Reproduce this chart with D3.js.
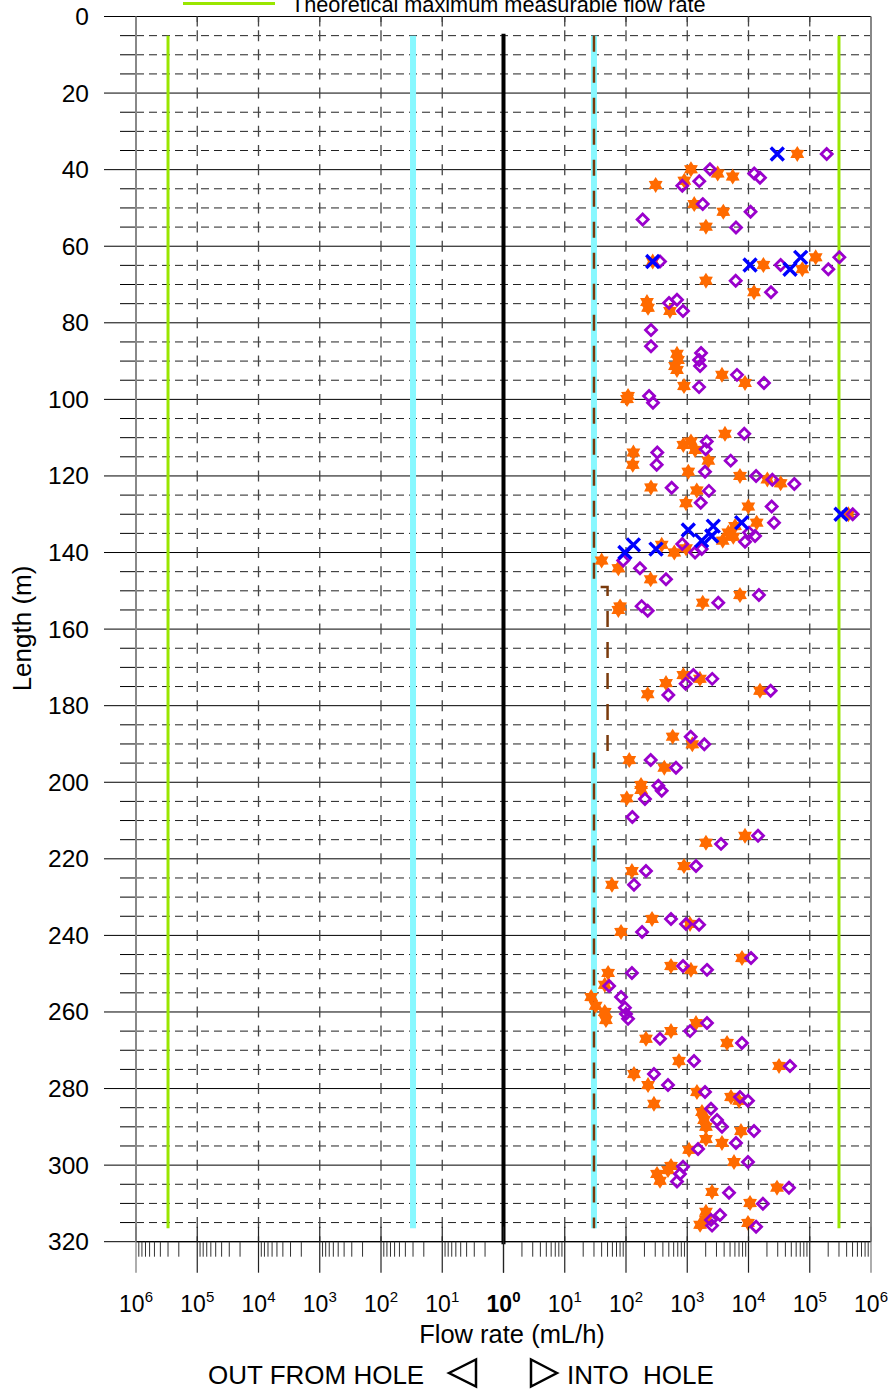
<!DOCTYPE html>
<html>
<head>
<meta charset="utf-8">
<script src="https://cdn.jsdelivr.net/npm/d3@7/dist/d3.min.js"></script>
<style>
  body { margin: 0; background: #fff; }
  text { font-family: "Liberation Sans", Arial, sans-serif; fill: #000; }
</style>
</head>
<body>
<div id="chart"></div>
<script>
// depth (m), flow rate (mL/h) -- all measured into the hole
var orangeStars = [
  [35.9, 62600], [39.9, 1150], [41.0, 3140], [41.8, 5520], [42.9, 895], [44.0, 305],
  [49.0, 1300], [51.0, 3880], [54.9, 2020], [62.9, 125000], [64.0, 273], [64.9, 17500],
  [66.0, 75600], [69.0, 2020], [72.0, 12300],
  [74.6, 220], [76.1, 229], [76.9, 523], [88.1, 680], [89.7, 706], [91.3, 631], [92.3, 680],
  [93.6, 3690], [95.7, 8770], [96.5, 885], [99.1, 108], [99.9, 104],
  [109.0, 4130], [111.0, 1150], [111.9, 863], [113.2, 1340], [113.9, 132], [116.0, 2210],
  [117.1, 129], [118.9, 1040], [120.0, 7260], [120.9, 20300], [121.9, 33500], [123.0, 256],
  [123.8, 1430], [127.1, 955], [128.0, 9930], [130.0, 426000], [132.2, 13600], [133.1, 6030],
  [134.8, 4680], [135.9, 5650], [136.9, 3790], [138.0, 383], [138.9, 955], [140.0, 615],
  [142.1, 40], [144.1, 75], [147.0, 253], [151.1, 7260], [153.1, 1790], [154.1, 80], [155.0, 75],
  [172.0, 863], [173.0, 1610], [174.1, 450], [176.1, 15400], [177.0, 226], [188.1, 578],
  [190.1, 1210], [194.2, 113], [196.2, 422], [200.7, 176], [202.0, 177], [204.2, 103],
  [214.0, 8770], [215.8, 2020], [221.9, 885], [223.2, 125], [226.8, 59], [235.7, 266],
  [237.0, 1110], [239.1, 83], [245.9, 7830], [248.0, 543], [249.0, 1150], [249.8, 51],
  [252.9, 45], [256.1, 27], [258.4, 32], [260.0, 45], [262.1, 47], [262.9, 1390], [265.0, 543],
  [267.0, 212], [268.1, 4460], [272.8, 733], [274.1, 31500], [276.2, 135], [279.1, 229],
  [280.9, 1440], [282.2, 5180], [283.2, 7000], [284.0, 286], [286.1, 1740], [288.2, 1880],
  [290.0, 2020], [291.1, 7540], [293.2, 2020], [294.2, 3690], [296.0, 1070], [299.2, 5800],
  [300.2, 543], [301.3, 485], [302.3, 321], [304.1, 359], [305.9, 29200], [307.0, 2540],
  [309.9, 10600], [312.2, 2020], [314.3, 2020], [315.6, 1620], [315.1, 9810]
];

var purpleDiamonds = [
  [35.9, 189000], [39.9, 2350], [41.0, 12400], [42.1, 15400], [43.0, 1570], [44.2, 830],
  [49.0, 1790], [51.0, 10800], [53.0, 187], [55.1, 6250], [62.9, 304000], [64.0, 359],
  [64.9, 33500], [66.0, 201000], [69.0, 6180], [72.0, 23300],
  [74.0, 680], [74.8, 504], [76.9, 853], [81.9, 256], [86.1, 256], [87.9, 1680], [89.7, 1560],
  [91.3, 1620], [93.6, 6490], [95.7, 17900], [96.8, 1560], [99.1, 238], [100.9, 276],
  [109.0, 8530], [111.0, 2080], [113.0, 2000], [113.9, 324], [116.0, 5120], [117.1, 317],
  [118.9, 1950], [120.0, 13300], [121.0, 24500], [122.1, 56000], [123.1, 557], [123.9, 2260],
  [127.0, 1660], [128.0, 23900], [130.0, 503000], [132.2, 26100], [134.8, 10200], [135.7, 12800],
  [137.2, 8770], [137.8, 830], [139.1, 1720], [140.0, 1340], [142.1, 90], [144.1, 169],
  [147.0, 450], [151.1, 14800], [153.1, 3210], [154.0, 180], [155.2, 226],
  [172.0, 1260], [173.0, 2560], [174.3, 943], [176.1, 23000], [177.2, 491], [188.1, 1140],
  [190.1, 1900], [194.2, 253], [196.2, 655], [200.9, 337], [202.2, 383], [204.4, 204], [209.1, 127],
  [214.0, 14300], [216.1, 3560], [221.9, 1390], [223.2, 212], [226.8, 135], [235.7, 543],
  [237.0, 955], [237.2, 1560], [239.1, 183], [245.9, 11000], [248.0, 853], [249.0, 2100],
  [249.8, 125], [253.2, 53], [256.1, 83], [258.9, 96], [260.5, 100], [261.8, 108], [262.9, 2100],
  [265.0, 1110], [267.0, 359], [268.1, 7830], [272.8, 1290], [274.1, 47600], [276.2, 286],
  [279.1, 485], [280.9, 1950], [282.2, 7260], [283.2, 9810], [285.3, 2440], [288.2, 3060],
  [290.0, 3690], [291.1, 12300], [294.2, 6250], [295.8, 1500], [299.2, 9810], [300.4, 853],
  [302.3, 762], [304.3, 680], [305.9, 45800], [307.2, 4810], [310.1, 17200], [313.0, 3430],
  [314.3, 2440], [315.8, 2540], [316.1, 13300]
];

var blueCrosses = [
  [35.9, 29500], [64.0, 273], [64.9, 10600], [62.9, 71100], [66.0, 47600],
  [130.0, 324000], [132.2, 7740], [133.1, 2660], [134.1, 1040], [135.7, 2510],
  [136.9, 1720], [138.0, 132], [139.1, 309], [140.0, 96]
];

// vertical reference lines
var theoMax = 300000;      // theoretical maximum measurable flow rate
var lowerLimit = 30;
var limitPath = [[5, 30], [149, 30], [149, 50], [192, 50], [192, 30], [316.5, 30]];

var depthTicks = d3.range(0, 321, 5);
var depthLabels = d3.range(0, 321, 20);
var decades = [0, 1, 2, 3, 4, 5, 6];

var width = 888, height = 1389;
var plotL = 136, plotR = 871, plotT = 16.5, plotB = 1241.7;
var xMid = 503.5;

var svg = d3.select("#chart").append("svg")
  .attr("width", width)
  .attr("height", height);

svg.append("rect").attr("width", width).attr("height", height).attr("fill", "#fff");

var y = d3.scaleLinear().domain([0, 320]).range([plotT, plotB]);
var xIn = d3.scaleLog().domain([1, 1e6]).range([xMid, plotR]);
var xOut = d3.scaleLog().domain([1, 1e6]).range([xMid, plotL]);

// horizontal grid + depth ticks
depthTicks.forEach(function(d) {
  var major = d % 20 === 0;
  svg.append("line")
    .attr("x1", major ? 104 : 120).attr("x2", major ? plotR : plotL)
    .attr("y1", y(d)).attr("y2", y(d))
    .attr("stroke", "#000")
    .attr("stroke-width", 1);
  if (!major) {
    svg.append("line")
      .attr("x1", plotL).attr("x2", plotR)
      .attr("y1", y(d)).attr("y2", y(d))
      .attr("stroke", "#222")
      .attr("stroke-width", 1)
      .attr("stroke-dasharray", "8,5");
  }
});

// vertical dashed grid at decades
var step = y(5) - y(0);
var gridX = [];
decades.forEach(function(k) {
  if (k > 0 && k < 6) { gridX.push(xIn(Math.pow(10, k))); gridX.push(xOut(Math.pow(10, k))); }
});
gridX.forEach(function(gx) {
  svg.append("line")
    .attr("x1", gx).attr("x2", gx)
    .attr("y1", plotT).attr("y2", plotB)
    .attr("stroke", "#444")
    .attr("stroke-width", 1.3)
    .attr("stroke-dasharray", "11," + (step - 11))
    .attr("stroke-dashoffset", 5.5);
  svg.append("line")
    .attr("x1", gx).attr("x2", gx)
    .attr("y1", plotT).attr("y2", plotT + 10)
    .attr("stroke", "#444").attr("stroke-width", 1.3);
});

// axis frame
svg.append("line").attr("x1", plotL).attr("x2", plotL).attr("y1", plotT).attr("y2", plotB)
  .attr("stroke", "#888").attr("stroke-width", 2);
svg.append("line").attr("x1", plotR).attr("x2", plotR).attr("y1", plotT).attr("y2", plotB)
  .attr("stroke", "#888").attr("stroke-width", 2);

// reference lines
[xIn(theoMax), xOut(theoMax)].forEach(function(gx) {
  svg.append("line").attr("x1", gx).attr("x2", gx).attr("y1", y(5)).attr("y2", y(316.5))
    .attr("stroke", "#99e600").attr("stroke-width", 3);
});
[xIn(lowerLimit), xOut(lowerLimit)].forEach(function(gx) {
  svg.append("line").attr("x1", gx).attr("x2", gx).attr("y1", y(5)).attr("y2", y(316.5))
    .attr("stroke", "#88f8ff").attr("stroke-width", 6);
});
svg.append("path")
  .attr("d", d3.line().x(function(d) { return xIn(d[1]); }).y(function(d) { return y(d[0]); })(limitPath))
  .attr("fill", "none")
  .attr("stroke", "#7a3a0c")
  .attr("stroke-width", 2.5)
  .attr("stroke-dasharray", "16,15");
svg.append("line").attr("x1", xMid).attr("x2", xMid).attr("y1", y(4.5)).attr("y2", plotB + 2.5)
  .attr("stroke", "#000").attr("stroke-width", 4);

// markers
function hexStar(R) {
  var p = [];
  for (var i = 0; i < 12; i++) {
    var a = Math.PI / 6 * i - Math.PI / 2, r = i % 2 ? R * 0.6 : R;
    p.push([r * Math.cos(a), r * Math.sin(a)]);
  }
  return "M" + p.join("L") + "Z";
}

svg.selectAll(".star").data(orangeStars).enter().append("path")
  .attr("class", "star")
  .attr("d", hexStar(8))
  .attr("transform", function(d) { return "translate(" + xIn(d[1]) + "," + y(d[0]) + ")"; })
  .attr("fill", "#ff6a00");

svg.selectAll(".diamond").data(purpleDiamonds).enter().append("path")
  .attr("class", "diamond")
  .attr("d", "M0,-5.5L5.5,0L0,5.5L-5.5,0Z")
  .attr("transform", function(d) { return "translate(" + xIn(d[1]) + "," + y(d[0]) + ")"; })
  .attr("fill", "none")
  .attr("stroke", "#9a00cc")
  .attr("stroke-width", 2.8);

svg.selectAll(".cross").data(blueCrosses).enter().append("path")
  .attr("class", "cross")
  .attr("d", "M-6.5,-6.5L6.5,6.5M-6.5,6.5L6.5,-6.5")
  .attr("transform", function(d) { return "translate(" + xIn(d[1]) + "," + y(d[0]) + ")"; })
  .attr("stroke", "#0000ff")
  .attr("stroke-width", 3.4);

// bottom axis
svg.append("line").attr("x1", plotL).attr("x2", plotR).attr("y1", plotB).attr("y2", plotB)
  .attr("stroke", "#000").attr("stroke-width", 1.2);
[xIn, xOut].forEach(function(sc) {
  sc.ticks().forEach(function(v) {
    var isDecade = Math.abs(Math.log10(v) - Math.round(Math.log10(v))) < 1e-9;
    if (isDecade) return;
    svg.append("line").attr("x1", sc(v)).attr("x2", sc(v)).attr("y1", plotB).attr("y2", plotB + 15)
      .attr("stroke", "#333").attr("stroke-width", 1);
  });
  decades.forEach(function(k) {
    var gx = sc(Math.pow(10, k));
    svg.append("line").attr("x1", gx).attr("x2", gx).attr("y1", plotB - 15).attr("y2", plotB + 31)
      .attr("stroke", k === 6 ? "#777" : "#222").attr("stroke-width", 1.2);
  });
});

function decadeLabel(gx, k, bold) {
  var t = svg.append("text")
    .attr("x", gx).attr("y", 1312)
    .attr("text-anchor", "middle")
    .attr("font-size", 23)
    .attr("font-weight", bold ? "bold" : "normal")
    .text("10");
  t.append("tspan").attr("font-size", 15).attr("dy", -10).text(k);
}
decades.forEach(function(k) {
  if (k === 0) { decadeLabel(xMid, 0, true); return; }
  decadeLabel(xIn(Math.pow(10, k)), k, false);
  decadeLabel(xOut(Math.pow(10, k)), k, false);
});

// depth labels
svg.selectAll(".ylab").data(depthLabels).enter().append("text")
  .attr("class", "ylab")
  .attr("x", 89).attr("y", function(d) { return y(d) + 8.5; })
  .attr("text-anchor", "end")
  .attr("font-size", 24.5)
  .text(function(d) { return d; });

svg.append("text")
  .attr("transform", "translate(31,628.5) rotate(-90)")
  .attr("text-anchor", "middle")
  .attr("font-size", 26)
  .text("Length (m)");

svg.append("text")
  .attr("x", 512).attr("y", 1343)
  .attr("text-anchor", "middle")
  .attr("font-size", 25.5)
  .text("Flow rate (mL/h)");

// direction legend
svg.append("text").attr("x", 208).attr("y", 1384).attr("font-size", 26).text("OUT FROM HOLE");
svg.append("path").attr("d", "M449,1373L476,1359.5L476,1386.5Z")
  .attr("fill", "none").attr("stroke", "#000").attr("stroke-width", 2.5);
svg.append("path").attr("d", "M557,1373L531,1359.5L531,1386.5Z")
  .attr("fill", "none").attr("stroke", "#000").attr("stroke-width", 2.5);
svg.append("text").attr("x", 567).attr("y", 1384).attr("font-size", 26)
  .style("white-space", "pre").text("INTO  HOLE");

// top legend entry (partly off the page)
svg.append("line").attr("x1", 183).attr("x2", 275).attr("y1", 3.5).attr("y2", 3.5)
  .attr("stroke", "#99e600").attr("stroke-width", 3);
svg.append("text").attr("x", 291).attr("y", 12).attr("font-size", 21.7)
  .text("Theoretical maximum measurable flow rate");
</script>
</body>
</html>
